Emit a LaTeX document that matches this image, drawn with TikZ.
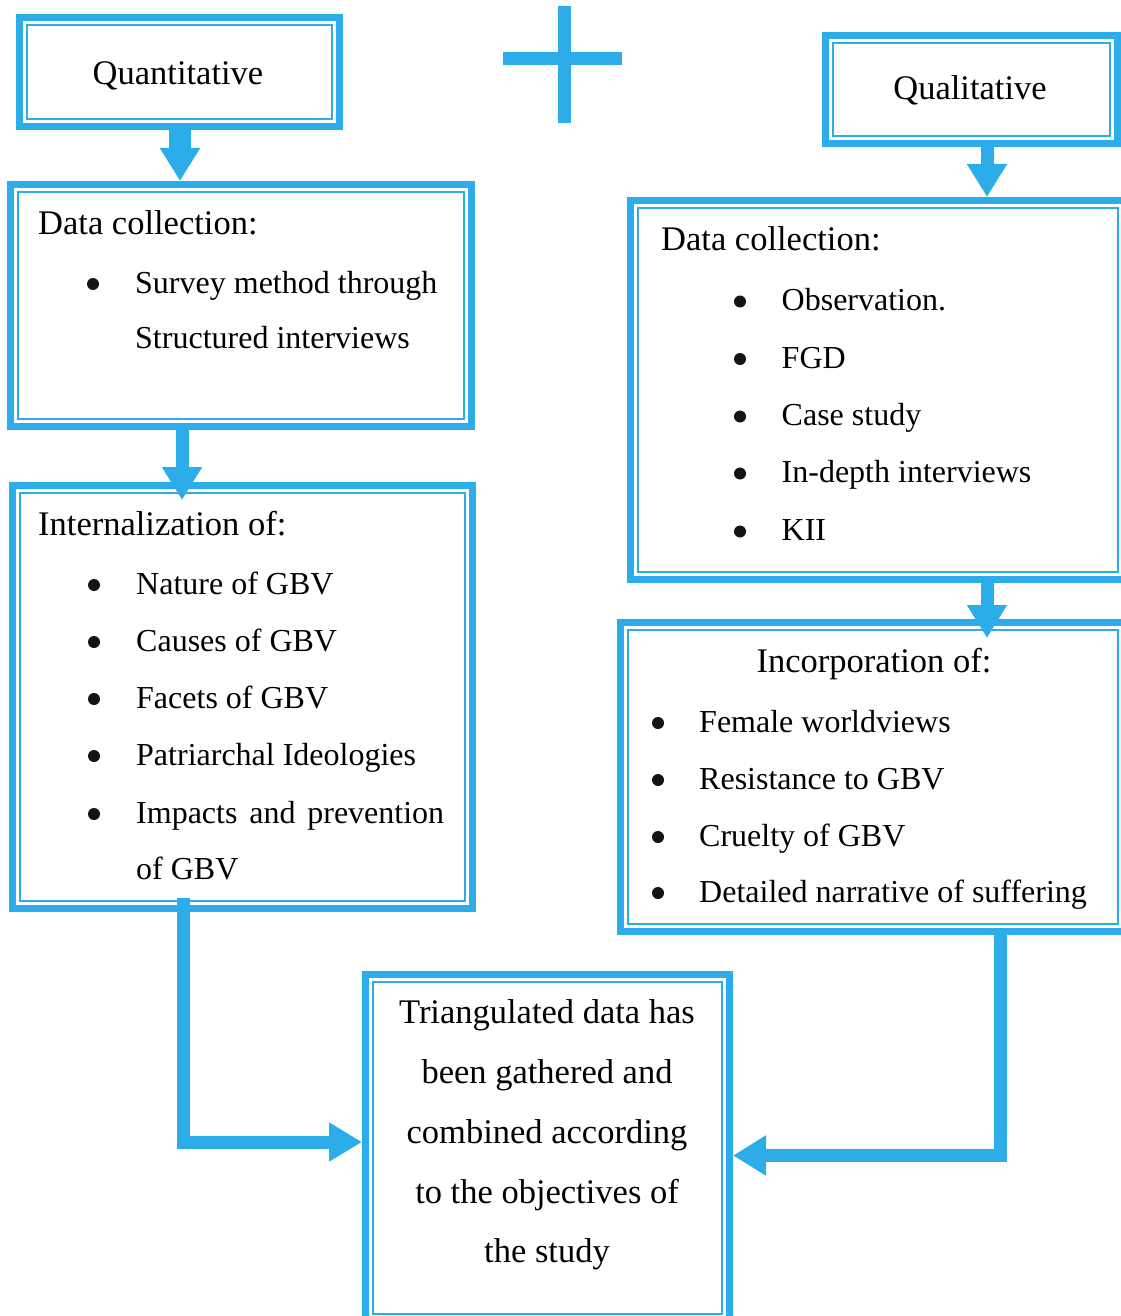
\documentclass[tikz,border=0pt]{standalone}
\usepackage{fontspec}
\setmainfont{Liberation Serif}
\usetikzlibrary{arrows.meta,calc}
\definecolor{flowblue}{RGB}{44,172,232}
\begin{document}
\begin{tikzpicture}[x=1pt,y=-1pt,
  box/.style={draw=flowblue, line width=7pt, rectangle, inner sep=0pt},
  inbox/.style={draw=flowblue, line width=2pt},
  conn/.style={draw=flowblue, line width=13pt, -{Triangle[width=38pt,length=33pt]}},
  head/.style={inner sep=0pt, text=black, font=\fontsize{34.5}{40}\selectfont},
  item/.style={inner sep=0pt, anchor=base west, text=black, font=\fontsize{32}{38}\selectfont},
  dot/.style={circle, fill=black!92, inner sep=0pt, minimum size=12pt, yshift=9pt},
]
\useasboundingbox (0,0) rectangle (1120,1316);

% outer frames of the boxes
\node[box, minimum width=320pt, minimum height=109pt] (q)   at (179.5,72) {};
\node[box, minimum width=461pt, minimum height=242pt] (dcl) at (241,305.5) {};
\node[box, minimum width=460pt, minimum height=423pt] (il)  at (242.5,697) {};
\node[box, minimum width=291.5pt, minimum height=108pt] (ql)  at (971.25,89.5) {};
\node[box, minimum width=494.5pt, minimum height=379pt] (dcr) at (877.75,390) {};
\node[box, minimum width=504.5pt, minimum height=309pt] (inc) at (872.75,777) {};
\node[box, minimum width=364pt, minimum height=347pt] (fin) at (547.5,1148) {};

% thin inner frames
\foreach \n in {q,dcl,il,ql,dcr,inc,fin}
  \draw[inbox] ($(\n.north west)+(11,11)$) rectangle ($(\n.south east)+(-11,-11)$);

% plus sign between the two strands
\draw[flowblue, line width=13pt] (564.5,6) -- (564.5,123);
\draw[flowblue, line width=13pt] (503,58.5) -- (622,58.5);

% connector columns and rows
\coordinate (xa) at (180,0);
\coordinate (xb) at (182,0);
\coordinate (xc) at (987,0);
\coordinate (xd) at (183,0);
\coordinate (xe) at (1000,0);
\coordinate (yl) at (0,1142);
\coordinate (yr) at (0,1155.5);

\draw[conn, line width=22pt] (q.south -| xa) -- (dcl.north -| xa);
\draw[conn] (dcl.south -| xb) -- ($(il.north -| xb)+(0,18)$);
\draw[conn] (ql.south -| xc) -- (dcr.north -| xc);
\draw[conn] (dcr.south -| xc) -- ($(inc.north -| xc)+(0,19)$);
\draw[conn, -{Triangle[width=37pt,length=33pt]}] ($(il.south -| xd)+(0,-14)$) |- (fin.west |- yl);
\draw[conn] (inc.south -| xe) |- (fin.east |- yr);

% titles
\node[head, anchor=base] (tq)  at (178,85)  {Quantitative};
\node[head, anchor=base] (tql) at (970,100) {Qualitative};

% quantitative data collection
\node[head, anchor=base west] (hdcl) at (38,234) {Data collection:};
\node[dot]  (bl1) at (93,293) {};
\node[item] (tl1) at (135,293) {Survey method through};
\node[item] (tl2) at (135,348.5) {Structured interviews};

% internalization
\node[head, anchor=base west] (hil) at (38,535) {Internalization of:};
\node[dot]  (bi1) at (94,594) {};
\node[dot]  (bi2) at (94,651) {};
\node[dot]  (bi3) at (94,708) {};
\node[dot]  (bi4) at (94,765) {};
\node[dot]  (bi5) at (94,823) {};
\node[item] (ti1) at (136,594) {Nature of GBV};
\node[item] (ti2) at (136,651) {Causes of GBV};
\node[item] (ti3) at (136,708) {Facets of GBV};
\node[item] (ti4) at (136,765) {Patriarchal Ideologies};
\node[item] (ti5) at (136,823) {\makebox[308pt][s]{Impacts and prevention}};
\node[item] (ti6) at (136,879) {of GBV};

% qualitative data collection
\node[head, anchor=base west] (hdcr) at (661,250) {Data collection:};
\node[dot]  (br1) at (740,310.5) {};
\node[dot]  (br2) at (740,368) {};
\node[dot]  (br3) at (740,425.5) {};
\node[dot]  (br4) at (740,482.5) {};
\node[dot]  (br5) at (740,540.5) {};
\node[item] (tr1) at (781.5,310.5) {Observation.};
\node[item] (tr2) at (781.5,368) {FGD};
\node[item] (tr3) at (781.5,425.5) {Case study};
\node[item] (tr4) at (781.5,482.5) {In-depth interviews};
\node[item] (tr5) at (781.5,540.5) {KII};

% incorporation
\node[head, anchor=base] (hinc) at (874,672) {Incorporation of:};
\node[dot]  (bc1) at (658,732) {};
\node[dot]  (bc2) at (658,789) {};
\node[dot]  (bc3) at (658,846) {};
\node[dot]  (bc4) at (658,902) {};
\node[item] (tc1) at (699,732) {Female worldviews};
\node[item] (tc2) at (699,789) {Resistance to GBV};
\node[item] (tc3) at (699,846) {Cruelty of GBV};
\node[item] (tc4) at (699,902) {Detailed narrative of suffering};

% triangulation
\node[head, anchor=base] (f1) at (547,1023) {Triangulated data has};
\node[head, anchor=base] (f2) at (547,1083) {been gathered and};
\node[head, anchor=base] (f3) at (547,1143) {combined according};
\node[head, anchor=base] (f4) at (547,1203) {to the objectives of};
\node[head, anchor=base] (f5) at (547,1262) {the study};
\end{tikzpicture}
\end{document}
